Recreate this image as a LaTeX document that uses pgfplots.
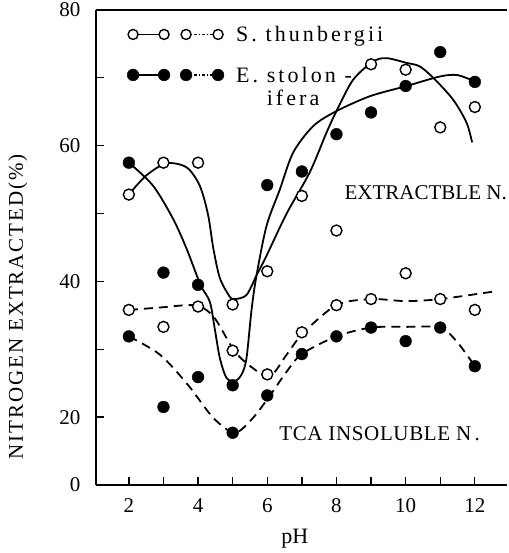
\documentclass[border=0pt]{standalone}
\usepackage{amsmath}
\usepackage{fontspec}
\setmainfont{Liberation Serif}
\usepackage{pgfplots}
\pgfplotsset{compat=1.18}
\usepackage{pgfplotstable}

% measured points (pH, % of total N)
\pgfplotstableread{
ph  st_ext  es_ext  st_tca  es_tca
2   52.8    57.5    35.8    31.9
3   57.5    41.3    33.3    21.5
4   57.5    39.5    36.3    25.9
5   36.6    24.7    29.8    17.7
6   41.5    54.2    26.3    23.2
7   52.6    56.2    32.5    29.3
8   47.5    61.7    36.5    31.9
9   72.0    64.9    37.4    33.2
10  71.2    68.8    41.2    31.2
11  62.7    73.8    37.4    33.2
12  65.7    69.4    35.8    27.5
}\points

\tikzset{
  opendot/.style={only marks, mark=*, mark size=5.5pt,
    mark options={draw=black, fill=white, line width=1.4pt}},
  fulldot/.style={only marks, mark=*, mark size=5.9pt,
    mark options={draw=black, fill=black}},
  fit/.style={no marks, smooth, black, line width=1.8pt},
  fitdash/.style={fit, dash pattern=on 9pt off 6pt},
}

\begin{document}
\begin{tikzpicture}
\begin{axis}[
    scale only axis,
    width=411pt, height=475pt,
    xmin=1.05, xmax=12.93,
    ymin=10, ymax=80,
    axis x line*=box,
    axis y line*=left,
    axis line style={line width=1.4pt, -},
    xtick={2,3,...,12},
    xticklabels={2,,4,,6,,8,,10,,12},
    ytick={10,20,...,80},
    yticklabels={0,20,,40,,60,,80},
    xtick pos=bottom,
    tick align=inside,
    major tick length=8pt,
    tick style={line width=1.3pt, black},
    tick label style={font=\fontsize{21}{23}\selectfont},
    xticklabel style={yshift=-10pt},
    yticklabel style={xshift=-12pt},
    /pgf/number format/assume math mode=true,
    xlabel={pH},
    xlabel style={at={(axis description cs:0.484,0)}, anchor=center, yshift=-54pt,
      font=\fontsize{22}{24}\selectfont},
    ylabel={\addfontfeatures{LetterSpace=9}NITROGEN EXTRACTED(\%)},
    ylabel style={at={(axis description cs:-0.19,0.375)}, anchor=center,
      font=\fontsize{21}{24}\selectfont},
    legend style={draw=none, fill=none, at={(axis description cs:0.07,0.975)},
      anchor=north west, font=\fontsize{22}{24}\selectfont, row sep=19pt,
      inner sep=2pt},
    legend cell align=left,
  ]

  \addlegendimage{legend image code/.code={
    \draw[line width=1.6pt] (0pt,0pt) -- (31pt,0pt);
    \draw[line width=1.3pt, dash pattern=on 3pt off 2pt on 1pt off 2pt] (53pt,0pt) -- (85pt,0pt);
    \draw[line width=1.4pt, fill=white] (0pt,0pt) circle (5pt) (31pt,0pt) circle (5pt)
      (53pt,0pt) circle (5pt) (85pt,0pt) circle (5pt);
  }}
  \addlegendentry{\hspace{10pt}\addfontfeatures{LetterSpace=14}S. thunbergii}
  \addlegendimage{legend image code/.code={
    \draw[line width=1.6pt] (0pt,0pt) -- (31pt,0pt);
    \draw[line width=1.3pt, dash pattern=on 3pt off 2pt on 1pt off 2pt] (53pt,0pt) -- (85pt,0pt);
    \fill (0pt,0pt) circle (5.9pt) (31pt,0pt) circle (5.9pt)
      (53pt,0pt) circle (5.9pt) (85pt,0pt) circle (5.9pt);
  }}
  \addlegendentry{\hspace{10pt}\addfontfeatures{LetterSpace=14}\smash[b]{\begin{tabular}[t]{@{}l@{}}E. stolon -\\[-1pt]\phantom{E. }ifera\end{tabular}}}

  % extractable N, S. thunbergii (solid)
  \addplot[fit, forget plot] coordinates {
    (2,52.8) (2.5,55.6) (3.09,57.4) (3.67,56.8) (4.05,54.1) (4.29,49.8)
    (4.44,44.9) (4.63,40.5) (4.91,37.8) (5.06,37.4) (5.4,38.0) (5.69,40.9)
    (5.98,43.8) (6.56,50.0) (7.23,56.1) (7.71,61.9) (8.0,65.1) (8.48,69.7)
    (9.06,72.4) (9.45,72.9) (10.03,72.2) (10.4,71.7) (10.8,70.0) (11.37,66.8)
    (11.76,63.4) (11.92,60.5)
  };
  % extractable N, E. stolonifera (solid)
  \addplot[fit, forget plot] coordinates {
    (2,57.5) (2.7,54.1) (3.28,49.2) (3.67,44.8) (4.07,39.5) (4.34,37.0)
    (4.48,33.1) (4.63,28.7) (4.82,25.8) (5.06,25.3) (5.26,26.3) (5.4,28.7)
    (5.55,36.0) (5.69,40.9) (5.98,48.2) (6.36,53.5) (6.75,59.0) (7.33,62.9)
    (8.0,65.1) (8.97,67.3) (10.03,68.8) (10.99,70.2) (11.5,70.4) (12.03,69.4)
  };
  % TCA insoluble N, S. thunbergii (dashed)
  \addplot[fitdash, forget plot] coordinates {
    (2,35.8) (3,36.2) (3.67,36.5) (4.07,36.3) (4.48,34.6) (5.06,29.7)
    (5.59,27.2) (6.08,26.0) (6.56,29.2) (7.04,32.4) (8,36.5) (9,37.4)
    (10,37.1) (11,37.4) (12.53,38.5)
  };
  % TCA insoluble N, E. stolonifera (dashed)
  \addplot[fitdash, forget plot] coordinates {
    (2,31.9) (2.9,29.2) (3.7,24.8) (4.44,19.9) (5.06,17.7) (5.59,19.9)
    (6.08,23.2) (6.56,26.7) (7.0,29.3) (8,31.9) (9,33.2) (10,33.3)
    (11,33.2) (11.5,31.0) (12,27.5)
  };

  \addplot[opendot, forget plot] table[x=ph, y=st_ext] {\points};
  \addplot[fulldot, forget plot] table[x=ph, y=es_ext] {\points};
  \addplot[opendot, forget plot] table[x=ph, y=st_tca] {\points};
  \addplot[fulldot, forget plot] table[x=ph, y=es_tca] {\points};

  \node[font=\fontsize{21}{24}\selectfont] at (axis cs:10.58,53.1) {EXTRACTBLE N.};
  \node[font=\fontsize{21}{24}\selectfont] at (axis cs:9.25,17.5)
    {\addfontfeatures{LetterSpace=3}TCA INSOLUBLE N\,.};
\end{axis}
\pgfresetboundingbox
\path[use as bounding box] ([xshift=-96pt,yshift=-68pt]current axis.south west)
  rectangle ([xshift=1pt,yshift=10pt]current axis.north east);
\end{tikzpicture}
\end{document}
